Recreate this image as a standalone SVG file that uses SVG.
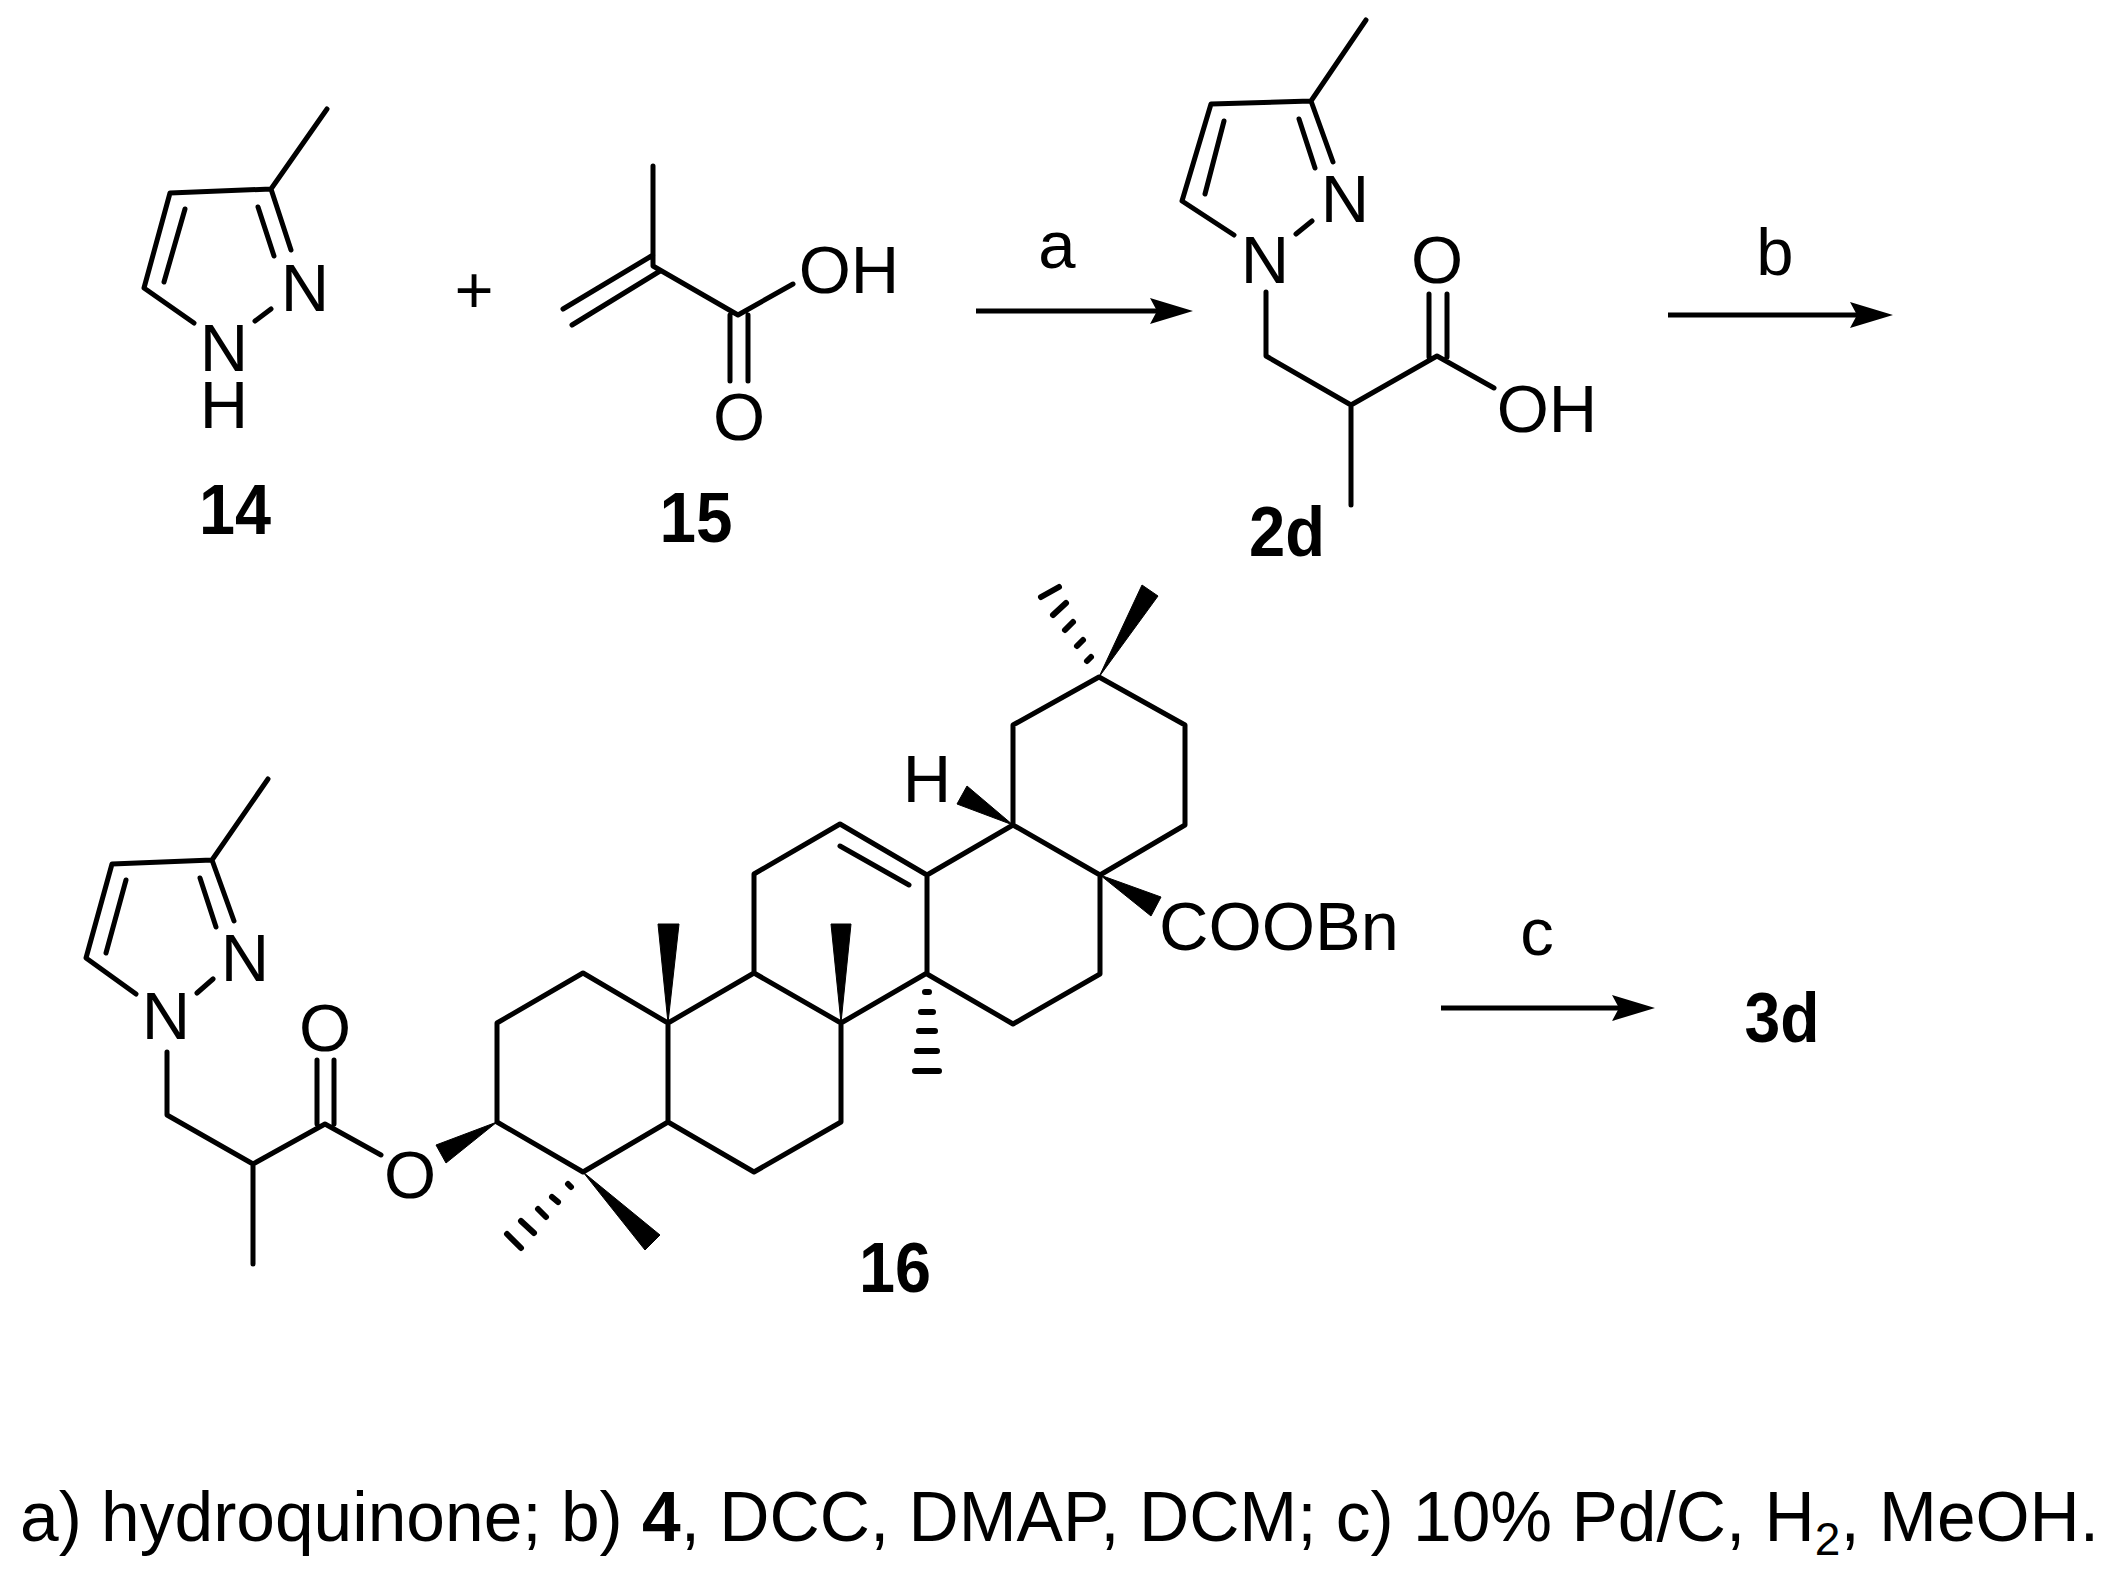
<svg xmlns="http://www.w3.org/2000/svg" width="2108" height="1580" viewBox="0 0 2108 1580">
<style>
text{font-family:"Liberation Sans",Arial,sans-serif;fill:#000;font-size:67px;text-anchor:middle}
.b{font-weight:bold;font-size:70px}
.s{text-anchor:start}
.bond{stroke:#000;stroke-width:5;fill:none;stroke-linecap:round;stroke-linejoin:round}
.hash{stroke:#000;stroke-width:6;fill:none;stroke-linecap:round}
.arrow{stroke:#000;stroke-width:5;fill:none}
.wedge{fill:#000;stroke:#000;stroke-width:1}
</style>
<defs>
<marker id="ah" markerUnits="userSpaceOnUse" markerWidth="46" markerHeight="28" refX="28" refY="13" orient="auto"><path d="M0 0L43 13L0 26L7 13Z" fill="#000"/></marker>
</defs>
<rect width="2108" height="1580" fill="#fff"/>
<g id="connectors">
<line class="arrow" x1="976" y1="311" x2="1178" y2="311" marker-end="url(#ah)"/>
<line class="arrow" x1="1668" y1="315" x2="1878" y2="315" marker-end="url(#ah)"/>
<line class="arrow" x1="1441" y1="1008" x2="1640" y2="1008" marker-end="url(#ah)"/>
</g>
<g id="compound-14">
<path class="bond" d="M327 109L271 189L170 193L144 288L194 323M271 189L291 250M258 207L274 256M185 209L164 282M271 309L255 321"/>
<text x="305" y="311">N</text><text x="224" y="371">N</text><text x="224" y="428">H</text>
<text class="b" x="235" y="534" textLength="72" lengthAdjust="spacingAndGlyphs">14</text>
</g>
<text id="plus" x="474" y="313">+</text>
<g id="compound-15">
<path class="bond" d="M653 166V266L738 315L793 284M653 255L563 309M660 271L572 325M730 315V381M748 315V381"/>
<text x="739" y="440">O</text><text x="849" y="293">OH</text>
<text class="b" x="696" y="542" textLength="73" lengthAdjust="spacingAndGlyphs">15</text>
</g>
<g id="compound-2d">
<path class="bond" d="M1366 20L1311 101L1211 104L1182 201L1234 235M1311 101L1333 162M1299 119L1315 168M1224 121L1205 194M1312 221L1296 234M1266 292V356L1351 405L1437 356L1494 388M1351 405V505M1429 357V294M1447 357V294"/>
<text x="1345" y="222">N</text><text x="1265" y="283">N</text><text x="1437" y="283">O</text><text x="1547" y="432">OH</text>
<text class="b" x="1287" y="556" textLength="76" lengthAdjust="spacingAndGlyphs">2d</text>
</g>
<text id="label-a" x="1057" y="268">a</text>
<text id="label-b" x="1775" y="275">b</text>
<text id="label-c" x="1537" y="955">c</text>
<text id="product-3d" class="b" x="1782" y="1042" textLength="75" lengthAdjust="spacingAndGlyphs">3d</text>
<g id="compound-16">
<path class="bond" d="M268 779L212 860L112 864L86 958L136 994M212 860L234 921M200 878L216 927M126 880L106 953M213 979L197 993M167 1052V1115L253 1164L325 1124L381 1155M253 1164V1264M317 1124V1060M334 1124V1060"/>
<text x="245" y="981">N</text><text x="166" y="1039">N</text><text x="325" y="1051">O</text><text x="410" y="1198">O</text>
<path class="bond" d="M497 1122V1023L583 973L668 1023V1122L583 1172ZM668 1122L754 1172L841 1122V1023L754 973L668 1023M754 973V874L840 824L927 875V973L841 1023M840 846L909 885M927 875L1013 825L1100 875V974L1013 1024L927 974M1013 825V725L1099 677L1185 725V825L1100 875"/>
<path class="wedge" d="M497 1122L436 1145L446 1163Z"/>
<path class="wedge" d="M668 1023L658 924H679Z"/>
<path class="wedge" d="M841 1023L831 924H851Z"/>
<path class="wedge" d="M583 1172L660 1235L645 1250Z"/>
<path class="wedge" d="M1013 825L967 786L957 804Z"/>
<path class="wedge" d="M1100 875L1161 897L1151 916Z"/>
<path class="wedge" d="M1099 677L1142 585L1158 596Z"/>
<path class="hash" d="M925 992H929M921 1012H933M919 1031H935M917 1051H937M915 1071H939"/>
<path class="hash" d="M568 1184L571 1187M552 1197L558 1202M538 1209L546 1217M521 1221L534 1233M507 1234L521 1248"/>
<path class="hash" d="M1087 661L1091 657M1077 646L1083 640M1065 630L1073 622M1053 615L1066 603M1041 597L1059 587"/>
<text x="927" y="802">H</text><text class="s" x="1159" y="950" style="font-size:68.5px">COOBn</text>
<text class="b" x="895" y="1292" textLength="72" lengthAdjust="spacingAndGlyphs">16</text>
</g>
<text id="footnote" class="s" x="20" y="1541" style="font-size:69.5px">a) hydroquinone; b) <tspan font-weight="bold">4</tspan>, DCC, DMAP, DCM; c) 10% Pd/C, H<tspan font-size="46" dy="14">2</tspan><tspan dy="-14">, MeOH.</tspan></text>
</svg>
